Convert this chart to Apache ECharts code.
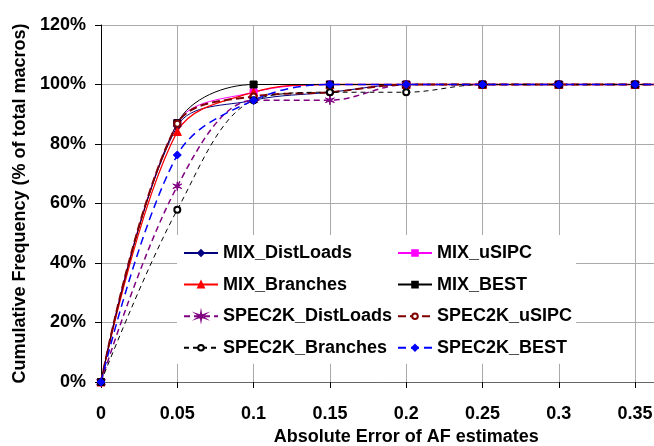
<!DOCTYPE html>
<html>
<head>
<meta charset="utf-8">
<script src="https://cdn.jsdelivr.net/npm/echarts@6/dist/echarts.min.js"></script>
<style>
html,body{margin:0;padding:0;background:#fff;}
#c{width:654px;height:446px;}
</style>
</head>
<body>
<div id="c"></div>
<script>
// Data (percent of total macros)
var xValues = [0, 0.05, 0.1, 0.15, 0.2, 0.25, 0.3, 0.35, 0.4];
var MIX_DistLoads    = [0, 86.0, 94.7, 97.4, 100, 100, 100, 100, 100];
var MIX_uSIPC        = [0, 87.0, 97.4, 100, 100, 100, 100, 100, 100];
var MIX_Branches     = [0, 84.2, 97.4, 100, 100, 100, 100, 100, 100];
var MIX_BEST         = [0, 87.0, 100, 100, 100, 100, 100, 100, 100];
var SPEC2K_DistLoads = [0, 65.8, 94.7, 94.7, 100, 100, 100, 100, 100];
var SPEC2K_uSIPC     = [0, 86.8, 96.0, 97.4, 100, 100, 100, 100, 100];
var SPEC2K_Branches  = [0, 57.9, 94.7, 97.4, 97.4, 100, 100, 100, 100];
var SPEC2K_BEST      = [0, 76.3, 94.7, 100, 100, 100, 100, 100, 100];
var yTicks = [0, 20, 40, 60, 80, 100, 120];
var xTicks = [0, 0.05, 0.1, 0.15, 0.2, 0.25, 0.3, 0.35];

var FONT = '"Liberation Sans", Arial, sans-serif';
var asterisk = 'path://M0,-5 L0.6,-1.04 L4.33,-2.5 L1.2,0 L4.33,2.5 L0.6,1.04 L0,5 L-0.6,1.04 L-4.33,2.5 L-1.2,0 L-4.33,-2.5 L-0.6,-1.04 Z';

function pairs(arr) {
  return xValues.map(function (x, i) { return [x, arr[i]]; });
}

var seriesDefs = [
  {name: 'MIX_DistLoads', data: MIX_DistLoads, color: '#000080', type: 'solid', width: 1, symbol: 'diamond', size: 7},
  {name: 'MIX_uSIPC', data: MIX_uSIPC, color: '#FF00FF', type: 'solid', width: 1, symbol: 'rect', size: 7},
  {name: 'MIX_Branches', data: MIX_Branches, color: '#FF0000', type: 'solid', width: 1.3, symbol: 'triangle', size: 8},
  {name: 'MIX_BEST', data: MIX_BEST, color: '#000000', type: 'solid', width: 1, symbol: 'rect', size: 7},
  {name: 'SPEC2K_DistLoads', data: SPEC2K_DistLoads, color: '#800080', type: [6, 4], width: 1.5, symbol: asterisk, size: 9},
  {name: 'SPEC2K_uSIPC', data: SPEC2K_uSIPC, color: '#800000', type: [8, 4], width: 2, symbol: 'emptyCircle', size: 6},
  {name: 'SPEC2K_Branches', data: SPEC2K_Branches, color: '#000000', type: [5, 4], width: 1, symbol: 'emptyCircle', size: 6},
  {name: 'SPEC2K_BEST', data: SPEC2K_BEST, color: '#0000FF', type: [8, 5], width: 1.5, symbol: 'diamond', size: 8}
];

var series = seriesDefs.map(function (d) {
  return {
    name: d.name,
    type: 'line',
    data: pairs(d.data),
    smooth: 0.35,
    symbol: d.symbol,
    symbolSize: d.size,
    showSymbol: true,
    lineStyle: {color: d.color, width: d.width, type: d.type},
    itemStyle: {color: d.color, borderColor: d.color, borderWidth: 1},
    emphasis: {disabled: true}
  };
});

var legendText = {fontFamily: FONT, fontWeight: 'bold', fontSize: 18, color: '#000', lineHeight: 20};
var legendCommon = {
  orient: 'vertical',
  itemWidth: 34,
  itemHeight: 7,
  itemGap: 11.6,
  backgroundColor: '#ffffff',
  textStyle: legendText,
  selectedMode: false,
  z: 10
};

var chart = echarts.init(document.getElementById('c'), null, {renderer: 'canvas'});
chart.setOption({
  animation: false,
  backgroundColor: '#ffffff',
  grid: {left: 101, top: 25, width: 610.4, height: 357, outerBoundsMode: 'none', containLabel: false},
  xAxis: {
    type: 'value', min: 0, max: 0.4, interval: 0.05,
    name: 'Absolute Error of AF estimates',
    nameLocation: 'middle', nameGap: 46,
    nameTextStyle: {fontFamily: FONT, fontWeight: 'bold', fontSize: 18, color: '#000'},
    axisLine: {show: true, lineStyle: {color: '#666', width: 1}},
    axisTick: {show: true, length: 6, lineStyle: {color: '#000'}},
    axisLabel: {
      margin: 23, fontFamily: FONT, fontWeight: 'bold', fontSize: 18, color: '#000',
      showMaxLabel: false,
      formatter: function (v) {
        var r = parseFloat(v.toFixed(2));
        return xTicks.indexOf(r) >= 0 ? String(r) : '';
      }
    },
    splitLine: {show: true, lineStyle: {color: '#aaaaaa', width: 1}}
  },
  yAxis: {
    type: 'value', min: 0, max: 120, interval: 20,
    name: 'Cumulative Frequency (% of total macros)',
    nameLocation: 'middle', nameGap: 66, nameRotate: 90,
    nameTextStyle: {fontFamily: FONT, fontWeight: 'bold', fontSize: 18, color: '#000'},
    axisLine: {show: true, lineStyle: {color: '#000', width: 1}},
    axisTick: {show: true, length: 6, lineStyle: {color: '#000'}},
    axisLabel: {
      margin: 15, fontFamily: FONT, fontWeight: 'bold', fontSize: 18, color: '#000',
      formatter: function (v) { return yTicks.indexOf(v) >= 0 ? v + '%' : ''; }
    },
    splitLine: {show: true, lineStyle: {color: '#aaaaaa', width: 1}}
  },
  legend: [
    Object.assign({}, legendCommon, {
      left: 177, top: 235,
      padding: [8, 6, 6, 6],
      data: ['MIX_DistLoads', 'MIX_Branches', 'SPEC2K_DistLoads', 'SPEC2K_Branches']
    }),
    Object.assign({}, legendCommon, {
      left: 389, top: 235,
      padding: [8, 4, 6, 8],
      data: ['MIX_uSIPC', 'MIX_BEST', 'SPEC2K_uSIPC', 'SPEC2K_BEST']
    })
  ],
  series: series
});
</script>
</body>
</html>
